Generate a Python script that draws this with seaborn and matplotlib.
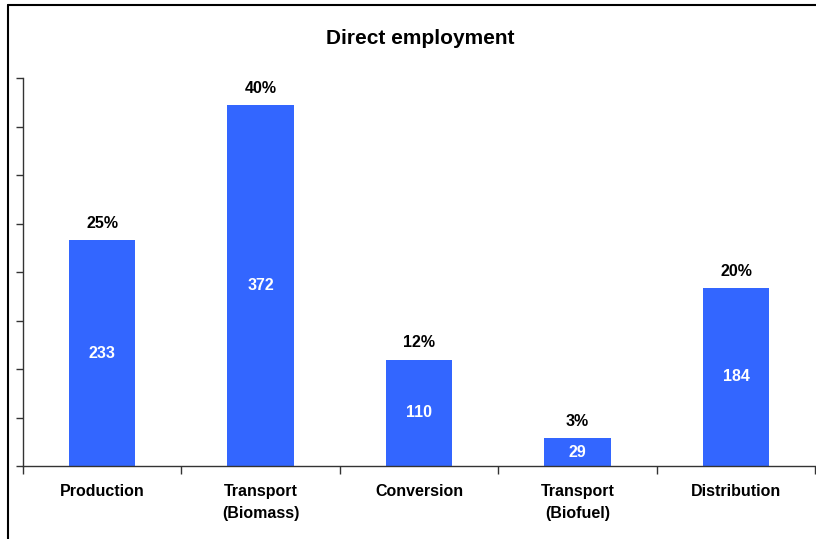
import matplotlib
matplotlib.use("Agg")
import matplotlib.pyplot as plt
from matplotlib.lines import Line2D
import seaborn as sns
import pandas as pd

categories = ["Production", "Transport\n(Biomass)", "Conversion", "Transport\n(Biofuel)", "Distribution"]
jobs = [233, 372, 110, 29, 184]
shares = ["25%", "40%", "12%", "3%", "20%"]

sns.set_style("white")
plt.rcParams["font.family"] = ["Liberation Sans", "DejaVu Sans"]
plt.rcParams["text.color"] = "black"
plt.rcParams["xtick.color"] = "black"

df = pd.DataFrame({"stage": categories, "jobs": jobs})

fig = plt.figure(figsize=(8.16, 5.39), dpi=100)
ax = fig.add_axes([0.028, 0.135, 0.971, 0.72])

sns.barplot(data=df, x="stage", y="jobs", color="#3366FF", saturation=1,
            width=0.42, linewidth=0, ax=ax)

for i, (v, s) in enumerate(zip(jobs, shares)):
    ax.text(i, v / 2, str(v), ha="center", va="center", color="white",
            fontsize=11.5, fontweight="bold")
    ax.annotate(s, (i, v), xytext=(0, 6.5), textcoords="offset points",
                ha="center", va="bottom", fontsize=11.5, fontweight="bold",
                color="black")

ax.set_xlim(-0.5, 4.5)
ax.set_ylim(0, 400)
ax.set_yticks(range(0, 401, 50))
ax.set_yticklabels([])
ax.set_xticks(range(len(categories)))
ax.set_xticklabels(categories, fontsize=11.5, fontweight="bold",
                   color="black", linespacing=1.6)
ax.set_xticks([i - 0.5 for i in range(len(categories) + 1)], minor=True)
ax.tick_params(axis="x", which="major", length=0, pad=13)
ax.tick_params(axis="x", which="minor", length=6, width=1, color="#333333", bottom=True)
ax.tick_params(axis="y", length=5, width=1, color="#333333", left=True)
ax.set_xlabel("")
ax.set_ylabel("")

for side in ["top", "right"]:
    ax.spines[side].set_visible(False)
for side in ["left", "bottom"]:
    ax.spines[side].set_color("#333333")
    ax.spines[side].set_linewidth(1)

fig.text(0.515, 0.928, "Direct employment", ha="center", va="center",
         fontsize=15, fontweight="bold", color="black")

# outer frame (left and top edges visible)
fig.add_artist(Line2D([0.0098, 0.0098], [0, 0.991], color="black", lw=1.5))
fig.add_artist(Line2D([0.0098, 1.0], [0.991, 0.991], color="black", lw=1.5))

fig.savefig("out.png", dpi=100)
